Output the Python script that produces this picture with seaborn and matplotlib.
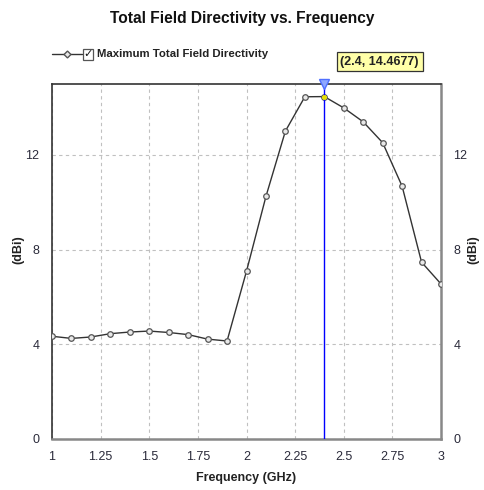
import matplotlib
matplotlib.use("Agg")
import matplotlib.pyplot as plt
from matplotlib.patches import Rectangle
from matplotlib.lines import Line2D
import seaborn as sns
import pandas as pd

# Directivity sweep
freq_ghz = [1.0, 1.1, 1.2, 1.3, 1.4, 1.5, 1.6, 1.7, 1.8, 1.9, 2.0,
            2.1, 2.2, 2.3, 2.4, 2.5, 2.6, 2.7, 2.8, 2.9, 3.0]
directivity_dbi = [4.34, 4.25, 4.31, 4.45, 4.52, 4.56, 4.50, 4.41, 4.22, 4.14, 7.09,
                   10.25, 13.01, 14.46, 14.4677, 13.99, 13.40, 12.52, 10.68, 7.47, 6.55]
x_ticks = [1, 1.25, 1.5, 1.75, 2, 2.25, 2.5, 2.75, 3]
x_tick_labels = ["1", "1.25", "1.5", "1.75", "2", "2.25", "2.5", "2.75", "3"]
y_ticks = [0, 4, 8, 12]
marker_freq = 2.4
marker_value = 14.4677
series_name = "Maximum Total Field Directivity"

df = pd.DataFrame({"Frequency": freq_ghz, "Directivity": directivity_dbi})

sns.set_style("white")
plt.rcParams["font.family"] = ["Liberation Sans", "DejaVu Sans"]

fig = plt.figure(figsize=(4.84, 4.90), dpi=100)
ax = fig.add_axes([0.1074, 0.1041, 0.8038, 0.7245])

sns.lineplot(data=df, x="Frequency", y="Directivity", ax=ax, color="#333333",
             linewidth=1.0, marker="o", markersize=4.0, markerfacecolor="#e8e8e8",
             markeredgecolor="#555555", markeredgewidth=0.9, zorder=4)

ax.set_xlim(1, 3)
ax.set_ylim(0, 15)
ax.set_xticks(x_ticks)
ax.set_xticklabels(x_tick_labels)
ax.set_yticks(y_ticks)
ax.grid(True, linestyle=(0, (3, 3)), color="#c0c0c0", linewidth=0.8)
ax.tick_params(axis="both", length=0, labelsize=9, colors="#2a2a3a", pad=9)
ax.tick_params(axis="y", right=True, labelright=True, pad=9)

for side in ["top", "left"]:
    ax.spines[side].set_color("#333333")
    ax.spines[side].set_linewidth(1.2)
for side in ["bottom", "right"]:
    ax.spines[side].set_color("#888888")
    ax.spines[side].set_linewidth(1.8)

ax.set_xlabel("Frequency (GHz)", fontsize=9, fontweight="bold", color="#222222", labelpad=6)
ax.set_ylabel("")
for xpos in (0.037, 0.978):
    fig.text(xpos, 0.49, "(dBi)", rotation=90, ha="center", va="center",
             fontsize=9, fontweight="bold", color="#222222")

# Marker line at the peak
ax.axvline(marker_freq, color="#0000ff", linewidth=1.0, zorder=5)
ax.plot([marker_freq], [15], marker="v", markersize=7, color="#8fa8ff",
        markeredgecolor="#5070ff", clip_on=False, zorder=6)
ax.plot([marker_freq], [marker_value], marker="o", markersize=2.5, color="#e8e000",
        zorder=7)

fig.text(0.5, 0.962, "Total Field Directivity vs. Frequency", ha="center", va="center",
         fontsize=11.2, fontweight="bold", color="#111111")

# Legend entry with checkbox
fig.add_artist(Line2D([0.107, 0.17], [0.889, 0.889], color="#333333", linewidth=1.0))
fig.add_artist(Line2D([0.138], [0.889], marker="D", markersize=3.5, markerfacecolor="#e8e8e8",
                      markeredgecolor="#555555", linestyle="none"))
fig.add_artist(Rectangle((0.171, 0.877), 0.022, 0.023, transform=fig.transFigure,
                         facecolor="white", edgecolor="#555555", linewidth=0.9))
fig.text(0.182, 0.889, "\u2713", ha="center", va="center", fontsize=8, fontweight="bold",
         family=["DejaVu Sans"], color="#111111")
fig.text(0.2, 0.889, series_name, ha="left", va="center", fontsize=8.2,
         fontweight="bold", color="#222222")

# Marker readout
fig.text(0.7845, 0.874, f"({marker_freq}, {marker_value})", ha="center", va="center",
         fontsize=9, fontweight="bold", color="#222222",
         bbox=dict(boxstyle="square,pad=0.3", facecolor="#ffffa8", edgecolor="#333333",
                   linewidth=0.9))

fig.savefig("out.png", dpi=100, facecolor="white")
